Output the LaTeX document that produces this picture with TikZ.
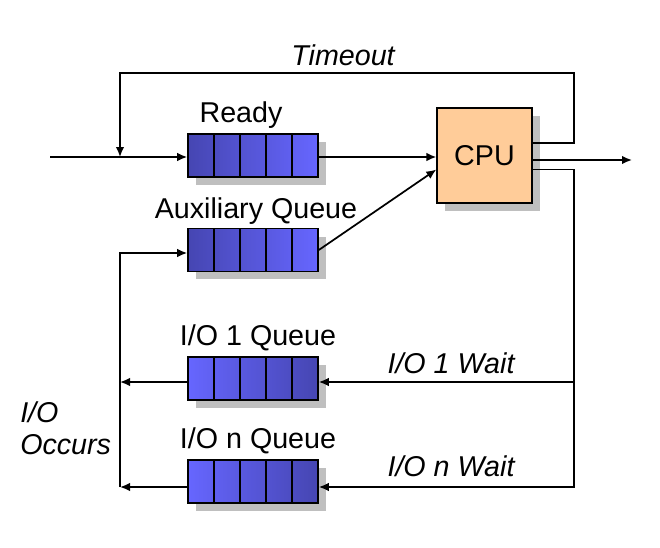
\documentclass[tikz,border=0pt]{standalone}
\usepackage{fontspec}
\setmainfont{Liberation Sans}
\usetikzlibrary{positioning}
\usetikzlibrary{calc}
\usetikzlibrary{shadows}
\usetikzlibrary{arrows.meta}
\definecolor{qdark}{RGB}{70,70,178}
\definecolor{qlight}{RGB}{102,102,255}
\definecolor{cpufill}{RGB}{255,204,153}
\tikzset{ %looks of the queues and the cpu
  queue/.style={
    draw=black, line width=1.2pt,
    minimum width=97.5pt, minimum height=32pt, inner sep=0pt,
    drop shadow={shadow xshift=6pt, shadow yshift=-6pt, fill=black!25, opacity=1},
    path picture={
      \foreach \k in {1,...,4}
        \draw[line width=1.2pt]
          ($(path picture bounding box.south west)!\k/5!(path picture bounding box.south east)$) --
          ($(path picture bounding box.north west)!\k/5!(path picture bounding box.north east)$);
    }
  },
  inqueue/.style={queue, left color=qdark, right color=qlight},
  ioqueue/.style={queue, left color=qlight, right color=qdark},
  cpubox/.style={
    draw=black, line width=1.2pt, fill=cpufill,
    minimum width=71pt, minimum height=71pt,
    drop shadow={shadow xshift=6pt, shadow yshift=-6pt, fill=black!25, opacity=1}
  },
  lbl/.style={font=\fontsize{21.5}{24}\selectfont, inner sep=0pt},
  ilbl/.style={lbl, font=\fontsize{21.5}{24}\selectfont\itshape},
  flow/.style={line width=1.3pt, -{Latex[length=7.5pt,width=6.5pt]}},
  wire/.style={line width=1.3pt}
}

\begin{document}
\begin{tikzpicture}[x=0.75pt, y=-0.75pt] % one unit is one pixel of the reference
\useasboundingbox (0,0) rectangle (660,547);

% queues and cpu
\node [inqueue] (ready) at (253,155.5) {};
\node [inqueue] (aux) at (253,250) {};
\node [ioqueue] (ioone) at (253,378.5) {};
\node [ioqueue] (ion) at (253,481.5) {};
\node [cpubox, lbl] (cpu) at (484.5,155.5) {CPU};

% labels
\node [lbl] (readylbl) at (241,115) {Ready};
\node [lbl] (auxlbl) at (256,211) {Auxiliary Queue};
\node [lbl] (ionelbl) at (258,338) {I/O 1 Queue};
\node [lbl] (ionlbl) at (258,441) {I/O n Queue};
\node [ilbl] (tolbl) at (343,55) {Timeout};
\node [ilbl] (wonelbl) at (451,363) {I/O 1 Wait};
\node [ilbl] (wnlbl) at (451,466) {I/O n Wait};
\node [ilbl, align=left, anchor=west] (occlbl) at (20,428) {I/O\\Occurs};

% corner points
\coordinate (in) at (50,157);
\coordinate (tj) at (120,157);
\coordinate (tr) at (574,73);
\coordinate (out) at (632,160);
\coordinate (wm) at (574,382);
\coordinate (wb) at (574,487);
\coordinate (lm) at (120,382);
\coordinate (lb) at (120,487);

% connectors
\draw [flow] (in) -- (ready.west |- in);
\draw [flow] (ready.east |- in) -- (cpu.west |- in);
\draw [flow] (aux.east) -- ($(cpu.west)+(0,14)$);
\draw [flow] ($(cpu.east)+(0,-12.5)$) -| (tr) -| (tj);
\draw [flow] ($(cpu.east)+(0,4.5)$) -- (out);
\draw [flow] ($(cpu.east)+(0,14)$) -| (wb) -- (wb -| ion.east);
\draw [flow] (wm) -- (wm -| ioone.east);
\draw [flow] (ioone.west |- lm) -- (lm);
\draw [flow] (ion.west |- lb) -- (lb);
\draw [flow] (lb) |- ($(aux.west)+(0,3)$);
\end{tikzpicture}
\end{document}
